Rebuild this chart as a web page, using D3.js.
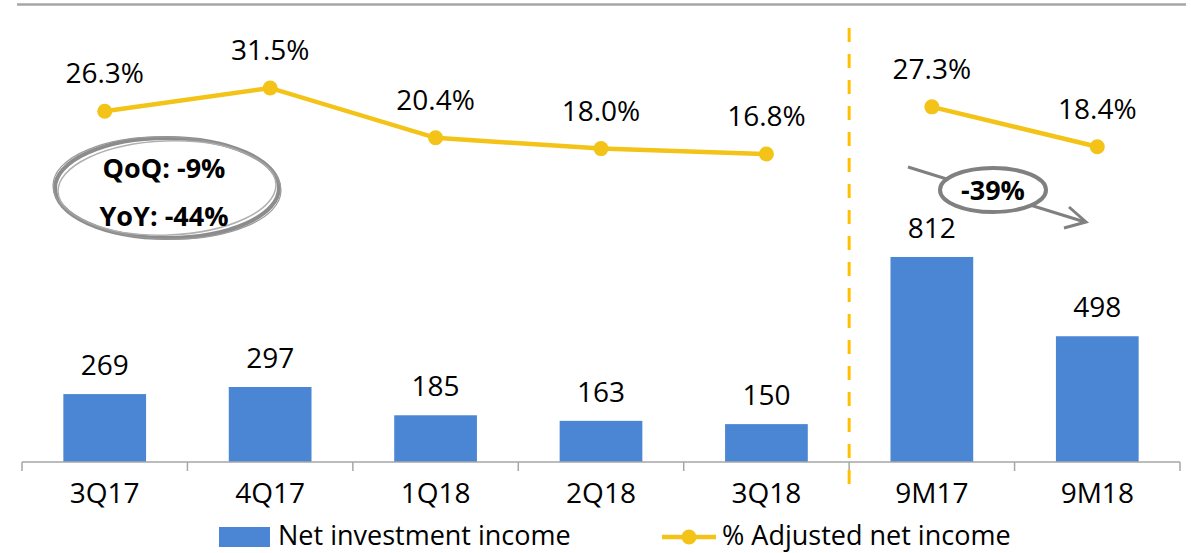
<!DOCTYPE html>
<html>
<head>
<meta charset="utf-8">
<script src="https://cdn.jsdelivr.net/npm/d3@7"></script>
<style>
  html, body { margin: 0; padding: 0; background: #fff; }
  svg text { font-family: "Open Sans", "Noto Sans", sans-serif; fill: #000; }
</style>
</head>
<body>
<div id="chart"></div>
<script>
// chart data
var categories = ["3Q17", "4Q17", "1Q18", "2Q18", "3Q18", "9M17", "9M18"];
var netInvestmentIncome = [269, 297, 185, 163, 150, 812, 498];
var adjustedNetIncomePct = [26.3, 31.5, 20.4, 18.0, 16.8, 27.3, 18.4];
var lineSegments = [["3Q17", "4Q17", "1Q18", "2Q18", "3Q18"], ["9M17", "9M18"]];
var quarterNotes = ["QoQ: -9%", "YoY: -44%"];
var periodNote = "-39%";
var legendLabels = ["Net investment income", "% Adjusted net income"];

var width = 1191, height = 553;
var barColor = "#4A86D3", lineColor = "#F4C317", gray = "#8C8C8C";
var fontSize = "28px";

var svg = d3.select("#chart").append("svg")
  .attr("width", width)
  .attr("height", height);

var x = d3.scaleBand()
  .domain(categories)
  .range([22, 1180])
  .paddingInner(0.5)
  .paddingOuter(0.25);

var yBar = d3.scaleLinear().domain([0, 1000]).range([462, 209.5]);
var yPct = d3.scaleLinear().domain([0, 40]).range([229.4, 49.8]);

var gap = (x.step() - x.bandwidth()) / 2;

// top rule
svg.append("line")
  .attr("x1", 17).attr("x2", 1186)
  .attr("y1", 4.5).attr("y2", 4.5)
  .attr("stroke", "#A6A6A6").attr("stroke-width", 2.5);

// bars
svg.selectAll("rect.bar")
  .data(netInvestmentIncome)
  .enter()
  .append("rect")
  .attr("class", "bar")
  .attr("x", function(d, i) { return x(categories[i]); })
  .attr("y", function(d) { return yBar(d); })
  .attr("width", x.bandwidth())
  .attr("height", function(d) { return yBar(0) - yBar(d); })
  .attr("fill", barColor);

svg.selectAll("text.barlabel")
  .data(netInvestmentIncome)
  .enter()
  .append("text")
  .attr("class", "barlabel")
  .attr("x", function(d, i) { return x(categories[i]) + x.bandwidth() / 2; })
  .attr("y", function(d) { return yBar(d) - 19; })
  .attr("text-anchor", "middle")
  .attr("font-size", fontSize)
  .text(function(d) { return d; });

// x axis
var axis = svg.append("g")
  .attr("transform", "translate(0," + yBar(0) + ")")
  .call(d3.axisBottom(x).tickSize(0).tickPadding(21));
axis.select(".domain").remove();
axis.selectAll("text")
  .attr("font-size", fontSize)
  .style("font-family", '"Open Sans", sans-serif')
  .attr("fill", "#000");

var bounds = categories.map(function(c) { return x(c) - gap; });
bounds.push(x(categories[categories.length - 1]) + x.bandwidth() + gap);

svg.append("line")
  .attr("x1", bounds[0]).attr("x2", bounds[bounds.length - 1])
  .attr("y1", yBar(0)).attr("y2", yBar(0))
  .attr("stroke", "#A6A6A6").attr("stroke-width", 1.5);

svg.selectAll("line.tick")
  .data(bounds)
  .enter()
  .append("line")
  .attr("class", "tick")
  .attr("x1", function(d) { return d; })
  .attr("x2", function(d) { return d; })
  .attr("y1", yBar(0))
  .attr("y2", yBar(0) + 9)
  .attr("stroke", "#A6A6A6").attr("stroke-width", 1.5);

// divider between quarters and nine-month totals
var divX = x("9M17") - gap;
svg.append("line")
  .attr("x1", divX).attr("x2", divX)
  .attr("y1", 28).attr("y2", 490)
  .attr("stroke", "#FFC000")
  .attr("stroke-width", 3)
  .attr("stroke-dasharray", "14,12");

// percentage line
var pctOf = {};
categories.forEach(function(c, i) { pctOf[c] = adjustedNetIncomePct[i]; });

var line = d3.line()
  .x(function(c) { return x(c) + x.bandwidth() / 2; })
  .y(function(c) { return yPct(pctOf[c]); });

svg.selectAll("path.pct")
  .data(lineSegments)
  .enter()
  .append("path")
  .attr("class", "pct")
  .attr("d", line)
  .attr("fill", "none")
  .attr("stroke", lineColor)
  .attr("stroke-width", 4.5);

svg.selectAll("circle.pct")
  .data(categories)
  .enter()
  .append("circle")
  .attr("class", "pct")
  .attr("cx", function(c) { return x(c) + x.bandwidth() / 2; })
  .attr("cy", function(c) { return yPct(pctOf[c]); })
  .attr("r", 7.5)
  .attr("fill", lineColor);

svg.selectAll("text.pctlabel")
  .data(categories)
  .enter()
  .append("text")
  .attr("class", "pctlabel")
  .attr("x", function(c) { return x(c) + x.bandwidth() / 2; })
  .attr("y", function(c) { return yPct(pctOf[c]) - 28; })
  .attr("text-anchor", "middle")
  .attr("font-size", fontSize)
  .text(function(c) { return pctOf[c].toFixed(1) + "%"; });

// QoQ / YoY callout
var note = svg.append("g").attr("transform", "translate(167,188)");
note.append("ellipse")
  .attr("rx", 112).attr("ry", 50)
  .attr("fill", "#fff")
  .attr("stroke", gray).attr("stroke-width", 4);
note.append("ellipse")
  .attr("rx", 109).attr("ry", 47)
  .attr("transform", "rotate(-2)")
  .attr("fill", "none")
  .attr("stroke", "#B0B0B0").attr("stroke-width", 1.5);
note.append("ellipse")
  .attr("rx", 114).attr("ry", 51)
  .attr("transform", "rotate(1.5)")
  .attr("fill", "none")
  .attr("stroke", "#9A9A9A").attr("stroke-width", 1.2);
note.selectAll("text")
  .data(quarterNotes)
  .enter()
  .append("text")
  .attr("x", -3)
  .attr("y", function(d, i) { return -20 + i * 48 + 10; })
  .attr("text-anchor", "middle")
  .attr("font-size", "27px")
  .attr("font-weight", "bold")
  .text(function(d) { return d; });

// nine-month change arrow
var arrow = svg.append("g");
arrow.append("line")
  .attr("x1", 908).attr("y1", 167)
  .attr("x2", 1085).attr("y2", 222)
  .attr("stroke", "#808080").attr("stroke-width", 3);
arrow.append("path")
  .attr("d", "M1069,207 L1086,222 L1064,228")
  .attr("fill", "none")
  .attr("stroke", "#808080").attr("stroke-width", 3);
arrow.append("ellipse")
  .attr("cx", 993).attr("cy", 190)
  .attr("rx", 53).attr("ry", 22)
  .attr("fill", "#fff")
  .attr("stroke", "#808080").attr("stroke-width", 4);
arrow.append("text")
  .attr("x", 993).attr("y", 200)
  .attr("text-anchor", "middle")
  .attr("font-size", "27px")
  .attr("font-weight", "bold")
  .text(periodNote);

// legend
var legend = svg.append("g");
legend.append("rect")
  .attr("x", 219).attr("y", 527)
  .attr("width", 51).attr("height", 20)
  .attr("fill", barColor);
legend.append("text")
  .attr("x", 278).attr("y", 545)
  .attr("font-size", "27px")
  .text(legendLabels[0]);
legend.append("line")
  .attr("x1", 662).attr("x2", 716)
  .attr("y1", 537).attr("y2", 537)
  .attr("stroke", lineColor).attr("stroke-width", 4.5);
legend.append("circle")
  .attr("cx", 689).attr("cy", 537).attr("r", 7.5)
  .attr("fill", lineColor);
legend.append("text")
  .attr("x", 722).attr("y", 545)
  .attr("font-size", "27px")
  .text(legendLabels[1]);
</script>
</body>
</html>
